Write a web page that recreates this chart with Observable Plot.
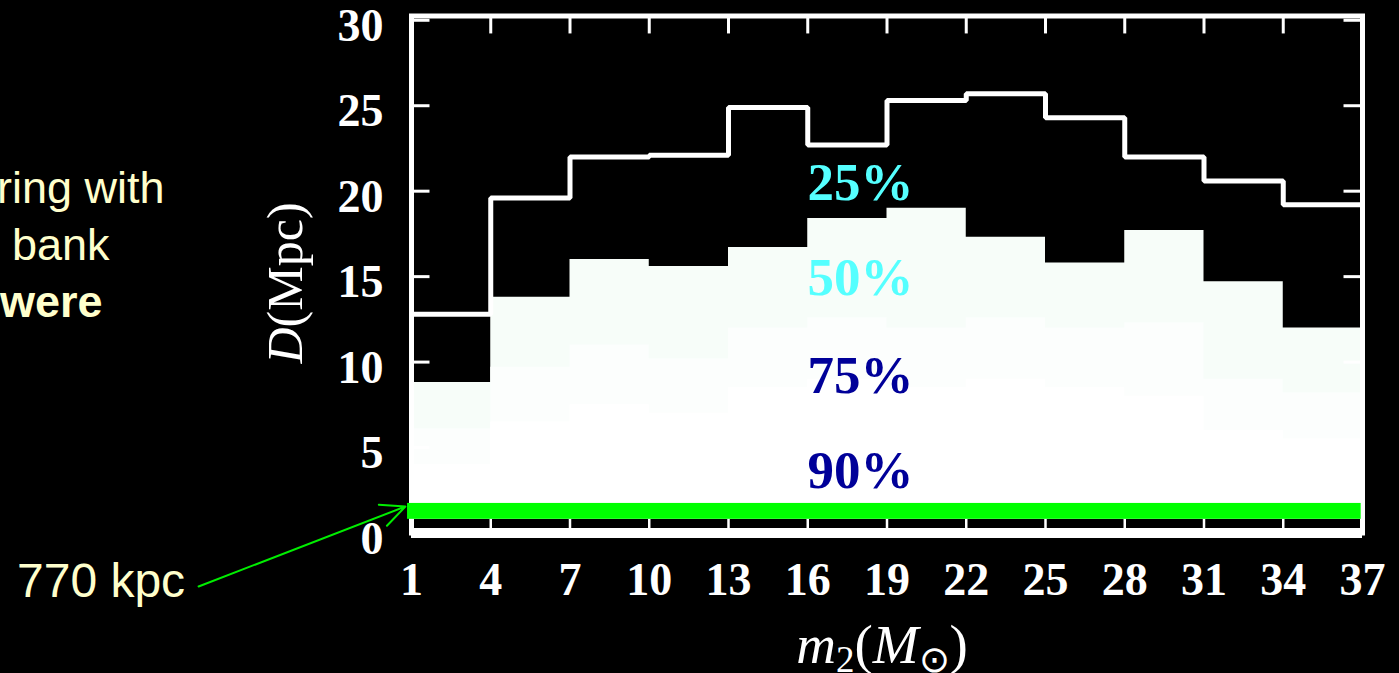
<!DOCTYPE html>
<html><head><meta charset="utf-8">
<script src="https://cdn.jsdelivr.net/npm/d3@7"></script>
<script src="https://cdn.jsdelivr.net/npm/@observablehq/plot@0.6"></script>
<style>
html,body{margin:0;padding:0;background:#000;overflow:hidden}
#chart{position:relative;width:1399px;height:673px}
</style></head><body><div id="chart"></div>
<script>
// m2 bin edges (solar masses)
const binEdges = [1,4,7,10,13,16,19,22,25,28,31,34,37];
// detection distance (Mpc) for each efficiency level, one value per bin
const dist25 = [12.8,19.6,22.0,22.1,24.9,22.7,25.3,25.7,24.3,22.0,20.6,19.2];
const dist50 = [8.8,13.8,16.0,15.6,16.7,18.4,19.0,17.3,15.8,17.7,14.7,12.0];
const dist75 = [6.1,9.7,11.0,10.2,12.0,12.6,12.0,12.6,12.0,12.3,9.0,8.2];
const dist90 = [4.0,6.5,7.5,7.0,8.5,9.0,8.5,9.0,8.5,8.0,6.0,5.5];
const yTicks = [0,5,10,15,20,25,30];
const xTicks = binEdges;
// percentage labels
const pctLabels = ["25%","50%","75%","90%"];
const pctX = [18,18,18,18];
const pctY = [20.5,14.9,9.2,3.6];
const pctColors = ["#55ffff","#55ffff","#000099","#000099"];
// 770 kpc band and arrow (data units)
const bandX = [0.85, 36.95];
const bandY = [0.8, 1.73];
const arrowFrom = [-7.06, -3.13];
const arrowTo = [0.77, 1.55];

const steps = arr => binEdges.map((x, i) => ({x, y: arr[Math.min(i, arr.length - 1)]}));
const inner = binEdges.slice(1, -1);
const fillBase = 0.8;

const plot = Plot.plot({
  width: 1399, height: 673,
  marginLeft: 411, marginRight: 37, marginTop: 15.5, marginBottom: 140.5,
  x: {domain: [1, 37], axis: null},
  y: {domain: [0, 30.25], axis: null},
  style: {background: "#000", color: "white", fontFamily: "Liberation Serif", fontSize: "46px", overflow: "visible"},
  marks: [
    Plot.areaY(steps(dist50), {x: "x", y1: fillBase, y2: "y", curve: "step-after", fill: "#f7fdf9"}),
    Plot.areaY(steps(dist75), {x: "x", y1: fillBase, y2: "y", curve: "step-after", fill: "#fcfefd"}),
    Plot.areaY(steps(dist90), {x: "x", y1: fillBase, y2: "y", curve: "step-after", fill: "#ffffff"}),
    Plot.line(steps(dist25), {x: "x", y: "y", curve: "step-after", stroke: "white", strokeWidth: 5, strokeLinejoin: "miter"}),
    Plot.ruleX(inner, {y1: 0, y2: fillBase, stroke: "white", strokeWidth: 2.5}),
    Plot.frame({stroke: "white", strokeWidth: 5}),
    Plot.ruleY([0], {stroke: "white", strokeWidth: 10}),
    Plot.ruleX(inner, {y1: 30.25, y2: 29.2, stroke: "white", strokeWidth: 3}),
    Plot.ruleY(yTicks, {x1: 1, x2: 1.7, stroke: "white", strokeWidth: 3}),
    Plot.ruleY(yTicks, {x1: 36.3, x2: 37, stroke: "white", strokeWidth: 3}),
    Plot.rect([0], {x1: bandX[0], x2: bandX[1], y1: bandY[0], y2: bandY[1], fill: "#00ff00"}),
    Plot.axisY({ticks: yTicks, tickSize: 0, tickPadding: 28, dy: 6, fontSize: 46, fontWeight: "bold", fill: "white", label: null}),
    Plot.axisX({ticks: xTicks, tickSize: 0, tickPadding: 29, fontSize: 46, fontWeight: "bold", fill: "white", label: null}),
    Plot.text(pctLabels, {x: (d, i) => pctX[i], y: (d, i) => pctY[i], text: d => d, fill: (d, i) => pctColors[i], fontSize: 53, fontWeight: "bold", fontFamily: "Liberation Serif"}),
    Plot.arrow([0], {x1: arrowFrom[0], y1: arrowFrom[1], x2: arrowTo[0], y2: arrowTo[1], stroke: "#00ee00", strokeWidth: 2, headLength: 20, headAngle: 50})
  ]
});
document.getElementById("chart").appendChild(plot);

const svg = d3.select(plot);
// axis titles
const yl = svg.append("text").attr("transform", "translate(302,283) rotate(-90)")
  .attr("text-anchor", "middle").attr("fill", "white")
  .style("font-family", "Liberation Serif").style("font-size", "50px");
yl.append("tspan").attr("font-style", "italic").text("D");
yl.append("tspan").text("(Mpc)");

const xl = svg.append("text").attr("x", 882).attr("y", 663)
  .attr("text-anchor", "middle").attr("fill", "white")
  .style("font-family", "Liberation Serif").style("font-size", "55px");
xl.append("tspan").attr("font-style", "italic").text("m");
xl.append("tspan").attr("font-size", "37px").attr("dy", 9).text("2");
xl.append("tspan").attr("dy", -9).text("(");
xl.append("tspan").attr("font-style", "italic").text("M");
xl.append("tspan").attr("font-size", "37px").attr("dy", 9).text("\u2299");
xl.append("tspan").attr("dy", -9).text(")");

// slide text beside the chart
const slide = [
  {t: "ring with", x: -3, y: 203, w: "normal", s: 45},
  {t: "bank", x: 12, y: 260, w: "normal", s: 45},
  {t: "were", x: 0, y: 317, w: "bold", s: 45},
  {t: "770 kpc", x: 17, y: 597, w: "normal", s: 48}
];
svg.selectAll("text.slide").data(slide).join("text").attr("class", "slide")
  .attr("x", d => d.x).attr("y", d => d.y).attr("fill", "#ffffcc")
  .attr("text-anchor", "start")
  .style("font-family", "Liberation Sans, Arial, sans-serif")
  .style("font-weight", d => d.w).style("font-size", d => d.s + "px")
  .text(d => d.t);
</script></body></html>
